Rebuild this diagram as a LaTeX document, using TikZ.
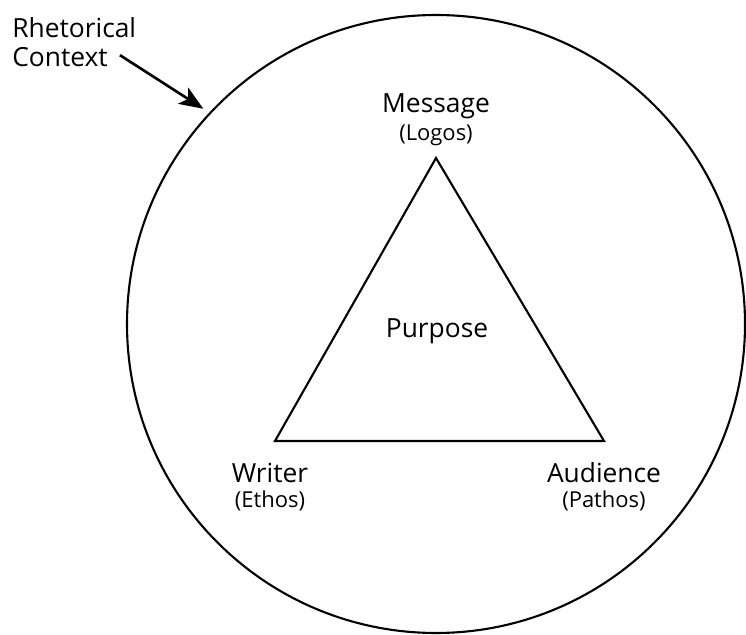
\documentclass[tikz,border=0pt]{standalone}
\usepackage{fontspec}
\setmainfont{Open Sans}
\usetikzlibrary{arrows.meta, positioning}

\begin{document}
\begin{tikzpicture}[
    bigtext/.style={font=\fontsize{15}{17}\selectfont, anchor=base, inner sep=0pt},
    smalltext/.style={font=\fontsize{12.5}{14}\selectfont, anchor=base, inner sep=0pt},
    edge/.style={line width=1.2pt},
    pointer/.style={-{Stealth[length=4.8mm, width=3.8mm, inset=1.2mm]}, line width=1.5pt}
]
    \useasboundingbox (0,0) rectangle (14.92,12.7);

    % Context circle
    \node[circle, draw, edge, minimum size=12.36cm, inner sep=0pt] (context) at (8.72,6.22) {};

    % Triangle corners
    \coordinate (msg) at (8.72,9.54);
    \coordinate (wri) at (5.50,3.88);
    \coordinate (aud) at (12.08,3.88);
    \draw[edge, line join=miter] (msg) -- (wri) -- (aud) -- cycle;

    % Labels
    \node[bigtext] (message) at (8.72,10.44) {Message};
    \node[smalltext] (logos) at (8.72,9.88) {(Logos)};
    \node[bigtext] (purpose) at (8.74,5.94) {Purpose};
    \node[bigtext] (writer) at (5.40,3.04) {Writer};
    \node[smalltext] (ethos) at (5.40,2.54) {(Ethos)};
    \node[bigtext] (audience) at (12.08,3.04) {Audience};
    \node[smalltext] (pathos) at (12.08,2.54) {(Pathos)};

    % Rhetorical context pointer
    \node[bigtext, anchor=base west] (rhet) at (0.24,11.94) {Rhetorical};
    \node[bigtext, anchor=base west] (ctx) at (0.24,11.36) {Context};
    \draw[pointer, shorten <=8pt, shorten >=4pt] (ctx.north east) -- (context.137);

\end{tikzpicture}
\end{document}
